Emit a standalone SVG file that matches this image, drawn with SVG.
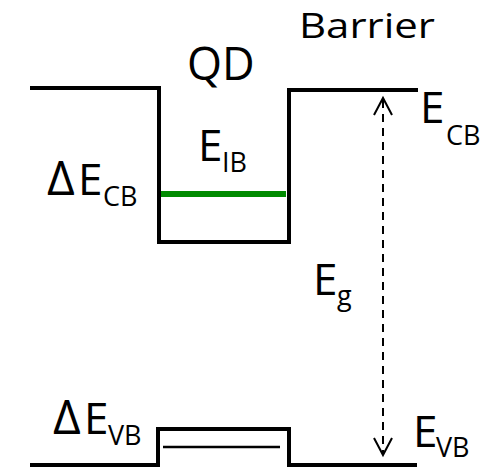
<svg xmlns="http://www.w3.org/2000/svg" width="491" height="470" viewBox="0 0 491 470">
<style>
.band{fill:none;stroke:#000;stroke-width:4;stroke-linejoin:miter}
.lbl{font-family:"Open Sans","Liberation Sans",sans-serif;fill:#000}
.big{font-size:44px}
.dl{font-size:48px}
.sub{font-size:27px}
.arr{fill:none;stroke:#000;stroke-width:2}
</style>
<rect width="491" height="470" fill="#fff"/>
<g id="conduction-band">
<path class="band" d="M30 88 H159 V242 H289 V90 H418"/>
</g>
<g id="intermediate-band">
<line x1="161" y1="194" x2="286" y2="194" stroke="#008a00" stroke-width="6"/>
</g>
<g id="valence-band">
<path class="band" d="M30 465 H158 V429 H289 V465 H417"/>
<line x1="163" y1="447" x2="280" y2="447" stroke="#000" stroke-width="2.5"/>
</g>
<g id="labels">
<text class="lbl" x="299" y="38" font-size="35" textLength="136" lengthAdjust="spacingAndGlyphs">Barrier</text>
<text class="lbl" x="187" y="80" font-size="45">QD</text>
<text class="lbl big" x="420" y="123">E</text><text class="lbl sub" x="446" y="145">CB</text>
<text class="lbl dl" x="47" y="195">Δ</text><text class="lbl big" x="78" y="195">E</text><text class="lbl sub" x="103" y="206">CB</text>
<text class="lbl big" x="198" y="161">E</text><text class="lbl sub" x="222" y="172">IB</text>
<text class="lbl big" x="313" y="295">E</text><text class="lbl sub" x="337" y="305">g</text>
<text class="lbl dl" x="53" y="434">Δ</text><text class="lbl big" x="84" y="434">E</text><text class="lbl sub" x="108" y="445">VB</text>
<text class="lbl big" x="413" y="447">E</text><text class="lbl sub" x="436" y="457">VB</text>
</g>
<g id="connectors">
<line class="arr" x1="383" y1="100" x2="383" y2="453" stroke-dasharray="8 6"/>
<polyline class="arr" points="374,115 383,98 392,115"/>
<polyline class="arr" points="374,438 383,455 392,438"/>
</g>
</svg>
